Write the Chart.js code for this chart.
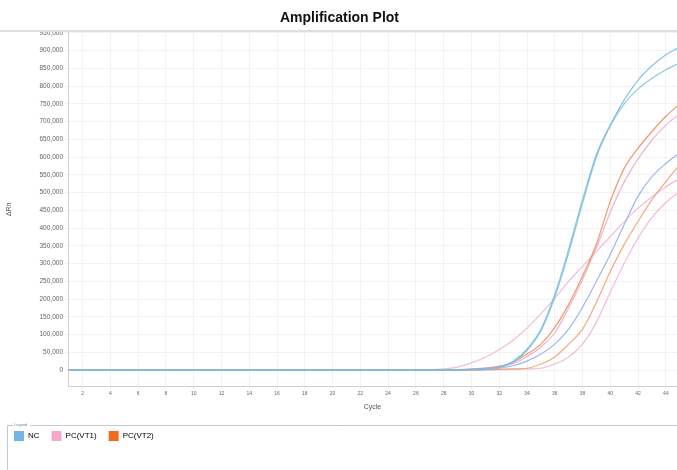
<!DOCTYPE html>
<html>
<head>
<meta charset="utf-8">
<script src="https://cdn.jsdelivr.net/npm/chart.js@4"></script>
<style>
  html, body { margin: 0; padding: 0; background: #fff; }
  #wrap { width: 677px; height: 470px; }
</style>
</head>
<body>
<div id="wrap"><canvas id="amp"></canvas></div>
<script>
// cycle numbers and delta Rn readings
const cycles = [1,2,3,4,5,6,7,8,9,10,11,12,13,14,15,16,17,18,19,20,21,22,23,24,25,26,27,28,29,30,31,32,33,34,35,36,37,38,39,40,41,42,43,44,45];
const xTicks = [2,4,6,8,10,12,14,16,18,20,22,24,26,28,30,32,34,36,38,40,42,44];
const yTicks = [0,50000,100000,150000,200000,250000,300000,350000,400000,450000,500000,550000,600000,650000,700000,750000,800000,850000,900000,950000];

const nc1 = [0,0,0,0,0,0,0,0,0,0, 0,0,0,0,0,0,0,0,0,0, 0,0,0,0,0,0,0,0,1000,2000,
  4000,8000,25000,59000,115000,213000,340000,480000,607000,691000, 761000,817000,857000,888000,910000];
const nc2 = [0,0,0,0,0,0,0,0,0,0, 0,0,0,0,0,0,0,0,0,0, 0,0,0,0,0,0,0,0,1000,2000,
  3000,7000,22000,55000,110000,205000,330000,470000,600000,688000, 750000,792000,822000,846000,865000];
const nc3 = [0,0,0,0,0,0,0,0,0,0, 0,0,0,0,0,0,0,0,0,0, 0,0,0,0,0,0,0,0,0,1000,
  2000,5000,12000,25000,45000,73000,115000,177000,250000,326000, 410000,490000,545000,582000,612000];
const vt1a = [0,0,0,0,0,0,0,0,0,0, 0,0,0,0,0,0,0,0,0,0, 0,0,0,0,0,0,1000,3000,8000,20000,
  36000,58000,84000,118000,158000,202000,250000,292000,334000,376000, 418000,456000,488000,516000,540000];
const vt1b = [0,0,0,0,0,0,0,0,0,0, 0,0,0,0,0,0,0,0,0,0, 0,0,0,0,0,0,0,0,1000,3000,
  6000,11000,18000,38000,65000,105000,175000,255000,345000,445000, 530000,595000,648000,690000,722000];
const vt1c = [0,0,0,0,0,0,0,0,0,0, 0,0,0,0,0,0,0,0,0,0, 0,0,0,0,0,0,0,0,0,0,
  0,1000,2000,3000,5000,17000,37000,73000,135000,220000, 300000,372000,430000,472000,503000];
const vt2a = [0,0,0,0,0,0,0,0,0,0, 0,0,0,0,0,0,0,0,0,0, 0,0,0,0,0,0,0,0,0,2000,
  5000,10000,22000,45000,73000,120000,185000,265000,355000,475000, 568000,625000,672000,715000,750000];
const vt2b = [0,0,0,0,0,0,0,0,0,0, 0,0,0,0,0,0,0,0,0,0, 0,0,0,0,0,0,0,0,0,0,
  1000,2000,3000,5000,17000,37000,73000,115000,191000,278000, 354000,419000,480000,531000,579000];

const legendNames = ['NC', 'PC(VT1)', 'PC(VT2)'];
const legendColors = ['#74b4e6', '#f4a8cc', '#f26a1e'];

function series(label, vals, color) {
  return {
    label: label,
    data: cycles.map((c, i) => ({ x: c, y: vals[i] })),
    borderColor: color,
    backgroundColor: color,
    borderWidth: 1.2,
    pointRadius: 0,
    fill: false,
    cubicInterpolationMode: 'monotone'
  };
}

// first dataset ends up drawn on top, so NC goes first (blue baseline)
const datasets = [
  series('NC', nc1, 'rgba(120,190,225,0.9)'),
  series('NC', nc2, 'rgba(130,195,215,0.9)'),
  series('NC', nc3, 'rgba(140,170,235,0.85)'),
  series('PC(VT2)', vt2a, 'rgba(238,135,80,0.85)'),
  series('PC(VT2)', vt2b, 'rgba(240,150,95,0.8)'),
  series('PC(VT1)', vt1a, 'rgba(240,170,205,0.8)'),
  series('PC(VT1)', vt1b, 'rgba(235,160,195,0.8)'),
  series('PC(VT1)', vt1c, 'rgba(240,170,205,0.8)')
];

const frame = {
  id: 'frame',
  afterDraw(chart) {
    const c = chart.ctx;
    c.save();
    c.strokeStyle = '#dedede';
    c.lineWidth = 2;
    c.beginPath(); c.moveTo(0, 31); c.lineTo(677, 31); c.stroke();
    // legend box
    c.strokeStyle = '#c8c8c8';
    c.lineWidth = 1;
    c.beginPath(); c.moveTo(7.5, 470); c.lineTo(7.5, 425.5); c.lineTo(677, 425.5); c.stroke();
    c.fillStyle = '#fff';
    c.fillRect(13, 421, 17, 8);
    c.fillStyle = '#6a88b0';
    c.font = '4px "Liberation Sans"';
    c.textBaseline = 'middle';
    c.fillText('Legend', 14, 425);
    c.restore();
  }
};

new Chart(document.getElementById('amp'), {
  type: 'line',
  data: { datasets: datasets },
  plugins: [frame],
  options: {
    responsive: true,
    maintainAspectRatio: false,
    animation: false,
    layout: { padding: { left: 2, right: 0, top: 0, bottom: 19 } },
    plugins: {
      tooltip: { enabled: false },
      title: {
        display: true,
        text: 'Amplification Plot',
        color: '#111',
        font: { family: 'Liberation Sans', size: 14, weight: 'bold' },
        padding: { top: 10, bottom: 6 }
      },
      legend: {
        position: 'bottom',
        align: 'start',
        labels: {
          boxWidth: 10,
          boxHeight: 10,
          padding: 12,
          color: '#555',
          font: { family: 'Liberation Sans', size: 8 },
          generateLabels: () => legendNames.map((n, i) => ({
            text: n, fillStyle: legendColors[i], strokeStyle: legendColors[i],
            lineWidth: 0, hidden: false, datasetIndex: i
          }))
        }
      }
    },
    scales: {
      x: {
        type: 'linear',
        min: 0.95,
        max: 44.8,
        afterBuildTicks: s => { s.ticks = xTicks.map(v => ({ value: v })); },
        afterFit: s => { s.height = 33; },
        grid: { color: '#f2f2f2', drawTicks: true, tickLength: 3 },
        border: { color: '#cfcfcf' },
        ticks: { color: '#666', font: { family: 'Liberation Sans', size: 5 }, padding: 2, maxRotation: 0 },
        title: { display: true, text: 'Cycle', color: '#555', font: { family: 'Liberation Sans', size: 7 }, padding: { top: 2, bottom: 8 } }
      },
      y: {
        min: -45000,
        max: 950000,
        afterBuildTicks: s => { s.ticks = yTicks.map(v => ({ value: v })); },
        afterFit: s => { s.width = 66; },
        grid: { color: '#f2f2f2', drawTicks: true, tickLength: 3 },
        border: { color: '#cfcfcf' },
        ticks: {
          color: '#666',
          font: { family: 'Liberation Sans', size: 6.5 },
          padding: 2,
          callback: v => v.toLocaleString('en-US')
        },
        title: { display: true, text: 'ΔRn', color: '#555', font: { family: 'Liberation Sans', size: 7 }, padding: { top: 3, bottom: 0 } }
      }
    }
  }
});
</script>
</body>
</html>
